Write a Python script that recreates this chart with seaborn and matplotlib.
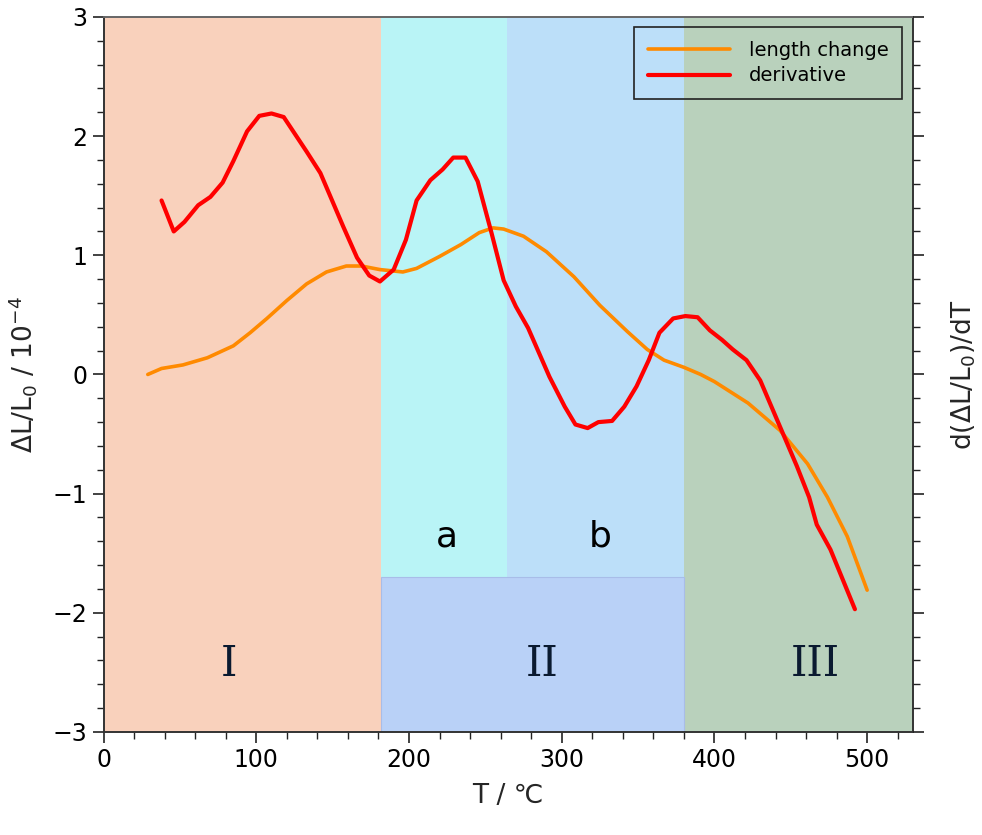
import matplotlib
matplotlib.use("Agg")
import matplotlib.pyplot as plt
import seaborn as sns
import pandas as pd
from matplotlib.ticker import MultipleLocator
from matplotlib.patches import Rectangle

# ---- data ----
T_len = [29, 38, 52, 68, 85, 96, 107, 120, 133, 146, 159, 169, 181, 196, 205, 220, 234, 246,
         255, 262, 275, 290, 308, 325, 343, 356, 367, 380, 391, 400, 422, 443, 461, 474, 487, 500]
dL = [0.0, 0.05, 0.08, 0.14, 0.24, 0.35, 0.47, 0.62, 0.76, 0.86, 0.91, 0.91, 0.88, 0.86, 0.89,
      0.99, 1.09, 1.19, 1.23, 1.22, 1.16, 1.03, 0.82, 0.58, 0.36, 0.21, 0.12, 0.06, 0.0, -0.06,
      -0.24, -0.47, -0.75, -1.03, -1.36, -1.81]

T_der = [38, 46, 53, 62, 70, 78, 85, 94, 102, 110, 118, 133, 142, 157, 166, 174, 181, 190, 198,
         205, 214, 222, 229, 237, 245, 254, 262, 270, 278, 292, 302, 309, 317, 324, 333, 341, 349,
         357, 364, 373, 381, 389, 397, 405, 412, 421, 430, 443, 454, 462, 467, 476, 484, 492]
der = [1.46, 1.20, 1.28, 1.42, 1.49, 1.61, 1.79, 2.04, 2.17, 2.19, 2.16, 1.87, 1.69, 1.24, 0.98,
       0.83, 0.78, 0.88, 1.13, 1.46, 1.63, 1.72, 1.82, 1.82, 1.62, 1.19, 0.79, 0.57, 0.39, -0.02,
       -0.27, -0.42, -0.45, -0.40, -0.39, -0.27, -0.10, 0.12, 0.35, 0.47, 0.49, 0.48, 0.37, 0.29,
       0.21, 0.12, -0.05, -0.44, -0.77, -1.03, -1.26, -1.47, -1.72, -1.97]

series_names = ["length change", "derivative"]
region_edges = [0, 182, 264, 380, 530]
sub_labels = ["a", "b"]
stage_labels = ["I", "II", "III"]
x_ticks = [0, 100, 200, 300, 400, 500]
y_ticks = [-3, -2, -1, 0, 1, 2, 3]

# ---- style ----
sns.set_style("ticks")
plt.rcParams['font.family'] = ['DejaVu Sans']
plt.rcParams['mathtext.default'] = 'regular'

fig = plt.figure(figsize=(9.82, 8.35), dpi=100)
ax = fig.add_axes([0.1054, 0.1234, 0.8243, 0.8563])
ax.set_xlim(0, 530)
ax.set_ylim(-3, 3)

# background regions
c_I, c_a, c_b, c_II, c_III = "#f9d1bc", "#b9f4f6", "#bcdff9", "#b9d1f7", "#b9d1bc"
II_top = -1.7
ax.axvspan(region_edges[0], region_edges[1], color=c_I, lw=0, zorder=0)
ax.axvspan(region_edges[1], region_edges[2], color=c_a, lw=0, zorder=0)
ax.axvspan(region_edges[2], region_edges[3], color=c_b, lw=0, zorder=0)
ax.axvspan(region_edges[3], region_edges[4], color=c_III, lw=0, zorder=0)
ax.add_patch(Rectangle((region_edges[1], -3), region_edges[3] - region_edges[1], II_top + 3,
                       facecolor=c_II, edgecolor="#a8bde8", lw=0.8, zorder=0.5))

# curves
df_len = pd.DataFrame({"T": T_len, "v": dL})
df_der = pd.DataFrame({"T": T_der, "v": der})
sns.lineplot(data=df_len, x="T", y="v", color="#ff8a00", lw=2.6, sort=False,
             estimator=None, ax=ax, label=series_names[0], zorder=3)
sns.lineplot(data=df_der, x="T", y="v", color="#ff0000", lw=3.0, sort=False,
             estimator=None, ax=ax, label=series_names[1], zorder=4)

# text labels
ax.text(224.5, -1.36, sub_labels[0], fontsize=26, ha="center", va="center", color="black")
ax.text(325, -1.36, sub_labels[1], fontsize=26, ha="center", va="center", color="black")
serif = ["DejaVu Serif"]
ax.text(82, -2.43, stage_labels[0], fontsize=30, ha="center", va="center", color="#0a1a30",
        family=serif)
ax.text(287, -2.43, stage_labels[1], fontsize=30, ha="center", va="center", color="#0a1a30",
        family=serif)
ax.text(466, -2.43, stage_labels[2], fontsize=30, ha="center", va="center", color="#0a1a30",
        family=serif)

# axes ticks
ax.set_xticks(x_ticks)
ax.set_yticks(y_ticks)
ax.set_yticklabels(["\u22123", "\u22122", "\u22121", "0", "1", "2", "3"])
ax.xaxis.set_minor_locator(MultipleLocator(20))
ax.yaxis.set_minor_locator(MultipleLocator(0.2))
ax.tick_params(axis="both", which="major", length=8, width=1.2, labelsize=17, direction="out",
               colors="#222222", labelcolor="black")
ax.tick_params(axis="both", which="minor", length=5, width=1.0, direction="out", colors="#222222")
ax.set_xlabel("T / \u2103", fontsize=19, labelpad=8)
ax.set_ylabel(r"$\Delta$L/L$_0$ / 10$^{-4}$", fontsize=19, labelpad=10)

for s in ["left", "bottom", "right"]:
    ax.spines[s].set_color("#333333")
    ax.spines[s].set_linewidth(1.4)
ax.spines["top"].set_color("#666666")
ax.spines["top"].set_linewidth(1.4)

# right axis (no labels)
ax2 = ax.twinx()
ax2.set_ylim(-3, 3)
ax2.set_yticks(y_ticks)
ax2.set_yticklabels([])
ax2.yaxis.set_minor_locator(MultipleLocator(0.2))
ax2.tick_params(axis="y", which="major", length=8, width=1.2, direction="out", colors="#222222")
ax2.tick_params(axis="y", which="minor", length=5, width=1.0, direction="out", colors="#222222")
ax2.set_ylabel(r"d($\Delta$L/L$_0$)/dT", fontsize=19, labelpad=15, rotation=90)
ax2.yaxis.set_label_position("right")
for s in ax2.spines.values():
    s.set_visible(False)

leg = ax.legend(loc="upper right", bbox_to_anchor=(0.987, 0.986), borderaxespad=0,
                fontsize=14, frameon=True, fancybox=False, facecolor="none", framealpha=1,
                edgecolor="#222222", handlelength=4.2, borderpad=0.7, labelspacing=0.35,
                handletextpad=1.0, labelcolor="black")
leg.get_frame().set_linewidth(1.2)

fig.savefig("out.png", dpi=100)
